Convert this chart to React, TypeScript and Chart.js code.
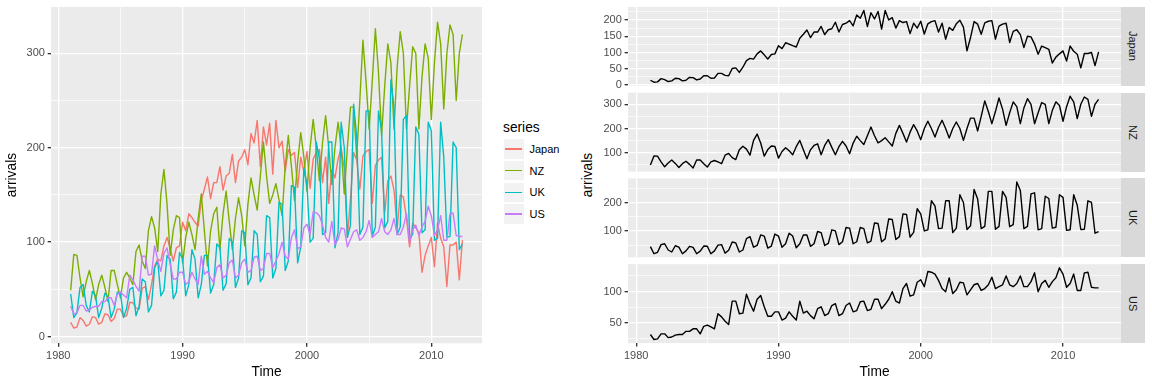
import React, { useEffect, useRef } from 'react';
import { Chart, registerables } from 'chart.js';

Chart.register(...registerables);

// ---------------- data ----------------
const START_YEAR = 1981;
const PERIODS_PER_YEAR = 4;
const seriesNames = ['Japan', 'NZ', 'UK', 'US'];
const seriesColors = ['#F8766D', '#7CAE00', '#00BFC4', '#C77CFF'];

const japan = [
  15, 9, 10, 20, 17, 11, 13, 21, 20, 13,
  15, 24, 23, 16, 19, 29, 29, 21, 22, 36,
  36, 30, 29, 51, 53, 39, 55, 75, 82, 80,
  96, 105, 93, 80, 94, 96, 121, 112, 130, 126,
  121, 117, 144, 156, 169, 146, 163, 163, 180, 155,
  170, 173, 193, 163, 186, 190, 198, 182, 215, 205,
  229, 180, 222, 203, 226, 172, 229, 200, 207, 175,
  198, 192, 195, 158, 190, 175, 196, 157, 188, 195,
  198, 163, 190, 141, 177, 168, 188, 199, 178, 105,
  146, 195, 187, 156, 191, 196, 198, 141, 181, 187,
  190, 131, 165, 170, 155, 115, 150, 148, 126, 95,
  120, 115, 110, 68, 86, 96, 105, 74, 120, 104,
  95, 53, 97, 97, 100, 60, 102,
];

const nz = [
  49, 87, 86, 62, 42, 58, 70, 56, 39, 55, 65, 52,
  37, 70, 70, 55, 41, 62, 68, 62, 55, 90, 97, 80,
  72, 112, 127, 115, 90, 151, 177, 140, 86, 113, 128, 126,
  78, 105, 121, 108, 92, 125, 151, 112, 75, 112, 130, 137,
  92, 130, 154, 122, 92, 125, 147, 128, 96, 140, 168, 150,
  134, 170, 206, 170, 141, 150, 162, 145, 128, 180, 213, 180,
  144, 185, 216, 190, 154, 200, 230, 200, 165, 205, 234, 200,
  161, 200, 227, 200, 151, 200, 243, 243, 190, 250, 314, 270,
  220, 270, 326, 280, 213, 265, 310, 290, 220, 285, 323, 300,
  220, 265, 307, 300, 220, 275, 310, 295, 230, 290, 333, 310,
  241, 300, 330, 320, 250, 300, 320,
];

const uk = [
  45, 20, 25, 52, 55, 33, 26, 48, 43, 20, 30, 46,
  42, 20, 29, 47, 46, 20, 30, 50, 52, 22, 32, 61,
  58, 26, 33, 73, 80, 43, 49, 86, 82, 40, 47, 89,
  82, 43, 55, 92, 82, 41, 55, 86, 86, 46, 55, 98,
  94, 49, 56, 104, 100, 52, 62, 112, 110, 55, 62, 112,
  108, 58, 64, 128, 126, 62, 72, 142, 140, 70, 80, 160,
  158, 78, 95, 178, 160, 100, 104, 206, 188, 108, 110, 206,
  206, 94, 110, 227, 200, 105, 118, 246, 212, 108, 116, 239,
  239, 106, 116, 239, 218, 115, 122, 272, 242, 108, 116, 230,
  234, 104, 108, 222, 214, 110, 113, 227, 218, 102, 104, 227,
  190, 105, 106, 206, 200, 92, 98,
];

const us = [
  32, 24, 25, 33, 33, 27, 28, 31, 32, 32,
  37, 37, 41, 41, 33, 45, 47, 44, 41, 65,
  60, 53, 48, 85, 85, 65, 66, 96, 81, 69,
  88, 94, 76, 61, 61, 68, 68, 55, 58, 68,
  61, 55, 85, 66, 69, 62, 57, 73, 76, 62,
  65, 78, 81, 62, 65, 78, 82, 68, 70, 84,
  85, 70, 72, 88, 88, 73, 80, 88, 100, 85,
  82, 105, 113, 93, 95, 115, 119, 108, 132, 131,
  128, 118, 105, 100, 122, 97, 103, 115, 114, 95,
  103, 111, 113, 102, 105, 111, 123, 105, 108, 111,
  125, 111, 108, 113, 125, 108, 108, 116, 130, 100,
  113, 118, 107, 116, 122, 138, 128, 107, 113, 128,
  102, 102, 130, 131, 107, 106, 106,
];

const seriesValues = [japan, nz, uk, us];

const xMajorTicks = [1980, 1990, 2000, 2010];
const xMinorTicks = [1985, 1995, 2005];
const leftYMajorTicks = [0, 100, 200, 300];
const leftYMinorTicks = [50, 150, 250];
const facetYMajorTicks = [
  [0, 50, 100, 150, 200],
  [100, 200, 300],
  [100, 200],
  [50, 100],
];
const facetYMinorTicks = [
  [25, 75, 125, 175, 225],
  [50, 150, 250],
  [50, 150, 250],
  [25, 75, 125],
];

// ---------------- helpers ----------------
const FONT = "'Liberation Sans', Arial, Helvetica, sans-serif";
Chart.defaults.font.family = FONT;

const times = japan.map((_, i) => START_YEAR + i / PERIODS_PER_YEAR);

function expandRange(values: number[]) {
  const lo = Math.min(...values);
  const hi = Math.max(...values);
  const pad = (hi - lo) * 0.05;
  return [lo - pad, hi + pad];
}

const [xMin, xMax] = expandRange(times);

const panelBg = {
  id: 'panelBg',
  beforeDraw(chart: any) {
    const { ctx, chartArea } = chart;
    ctx.save();
    ctx.fillStyle = '#EBEBEB';
    ctx.fillRect(chartArea.left, chartArea.top, chartArea.right - chartArea.left, chartArea.bottom - chartArea.top);
    ctx.restore();
  },
};

function gridOpts(major: number[], showTicks: boolean) {
  return {
    color: '#FFFFFF',
    lineWidth: (c: any) => (c.tick && major.includes(c.tick.value) ? 1.33 : 0.67),
    drawTicks: showTicks,
    tickLength: 3.4,
    tickWidth: 1.33,
    tickColor: (c: any) => (c.tick && major.includes(c.tick.value) ? '#333333' : 'rgba(0,0,0,0)'),
  };
}

function linearAxis(
  min: number,
  max: number,
  major: number[],
  minor: number[],
  showLabels: boolean,
  fixedSize: number,
  horizontal: boolean,
  title?: string,
) {
  const all = [...major, ...minor].filter((v) => v >= min && v <= max).sort((a, b) => a - b);
  return {
    type: 'linear',
    min,
    max,
    afterBuildTicks: (s: any) => {
      s.ticks = all.map((v) => ({ value: v }));
    },
    afterFit: (s: any) => {
      if (horizontal) {
        s.height = fixedSize;
        s.paddingLeft = 0;
        s.paddingRight = 0;
      } else {
        s.width = fixedSize;
        s.paddingTop = 0;
        s.paddingBottom = 0;
      }
    },
    grid: gridOpts(major, showLabels),
    border: { display: false },
    ticks: {
      display: showLabels,
      padding: 2.75,
      color: '#4D4D4D',
      font: { size: 11 },
      autoSkip: false,
      maxRotation: 0,
      minRotation: 0,
      callback: (v: number) => (major.includes(v) ? String(v) : ''),
    },
    title: {
      display: !!title,
      text: title || '',
      color: '#000000',
      font: { size: 13.75 },
      padding: horizontal ? { top: 0, bottom: 3.75 } : { top: 3.75, bottom: 0 },
    },
  };
}

function ChartCanvas({ left, top, width, height, makeConfig }: any) {
  const ref = useRef<HTMLCanvasElement>(null);
  useEffect(() => {
    const chart = new Chart(ref.current as HTMLCanvasElement, makeConfig());
    return () => chart.destroy();
  }, []);
  return (
    <canvas
      ref={ref}
      width={width}
      height={height}
      style={{ position: 'absolute', left, top, width, height }}
    />
  );
}

// ---------------- layout ----------------
const LEFT_PANEL = { left: 51.1, right: 482, top: 6.9, bottom: 343.3 };
const RIGHT_PANEL = { left: 628, right: 1121 };
const facetTops = [6.9, 92.7, 178.4, 264.2];
const facetBottoms = [85.8, 171.6, 257.3, 343.1];
const X_AXIS_HEIGHT = 40.9;

function leftConfig() {
  const [yMin, yMax] = expandRange(seriesValues.flat());
  return {
    type: 'line',
    data: {
      datasets: seriesNames.map((name, k) => ({
        label: name,
        data: times.map((t, i) => ({ x: t, y: seriesValues[k][i] })),
        borderColor: seriesColors[k],
        borderWidth: 1.4,
        borderJoinStyle: 'round',
        pointRadius: 0,
        tension: 0,
        fill: false,
        order: seriesNames.length - k,
      })),
    },
    options: {
      animation: false,
      responsive: false,
      devicePixelRatio: 1,
      layout: { padding: { top: LEFT_PANEL.top, left: 0, right: 0, bottom: 0 } },
      plugins: { legend: { display: false }, tooltip: { enabled: false } },
      scales: {
        x: {
          ...linearAxis(xMin, xMax, xMajorTicks, xMinorTicks, true, 384 - LEFT_PANEL.bottom, true, 'Time'),
          position: 'bottom',
        },
        y: {
          ...linearAxis(yMin, yMax, leftYMajorTicks, leftYMinorTicks, true, LEFT_PANEL.left, false, 'arrivals'),
          position: 'left',
        },
      },
    },
    plugins: [panelBg],
  };
}

function facetConfig(k: number, canvasTop: number, canvasHeight: number) {
  const isBottom = k === seriesNames.length - 1;
  const [yMin, yMax] = expandRange(seriesValues[k]);
  const xH = isBottom ? X_AXIS_HEIGHT : 0;
  return {
    type: 'line',
    data: {
      datasets: [
        {
          label: seriesNames[k],
          data: times.map((t, i) => ({ x: t, y: seriesValues[k][i] })),
          borderColor: '#000000',
          borderWidth: 1.4,
          borderJoinStyle: 'round',
          pointRadius: 0,
          tension: 0,
          fill: false,
        },
      ],
    },
    options: {
      animation: false,
      responsive: false,
      devicePixelRatio: 1,
      layout: {
        padding: {
          top: facetTops[k] - canvasTop,
          left: 0,
          right: 0,
          bottom: canvasTop + canvasHeight - facetBottoms[k] - xH,
        },
      },
      plugins: { legend: { display: false }, tooltip: { enabled: false } },
      scales: {
        x: {
          ...linearAxis(xMin, xMax, xMajorTicks, xMinorTicks, isBottom, xH, true, isBottom ? 'Time' : undefined),
          position: 'bottom',
        },
        y: {
          ...linearAxis(yMin, yMax, facetYMajorTicks[k], facetYMinorTicks[k], true, 32, false),
          position: 'left',
        },
      },
    },
    plugins: [panelBg],
  };
}

const FACET_CANVAS_LEFT = RIGHT_PANEL.left - 32;

export default function App() {
  const facetCanvas = facetTops.map((t, k) => {
    const top = Math.max(0, Math.floor(t) - 5);
    const bottom = k === facetTops.length - 1 ? 384 : Math.ceil(facetBottoms[k]) + 6;
    return { top, height: bottom - top };
  });
  return (
    <div
      style={{
        position: 'fixed',
        left: 0,
        top: 0,
        width: 1152,
        height: 384,
        background: '#FFFFFF',
        fontFamily: FONT,
        overflow: 'hidden',
      }}
    >
      <ChartCanvas left={0} top={0} width={Math.round(LEFT_PANEL.right)} height={384} makeConfig={leftConfig} />

      {/* legend */}
      <div style={{ position: 'absolute', left: 503, top: 119, fontSize: 13.75, lineHeight: '17px', color: '#000' }}>
        series
      </div>
      {seriesNames.map((name, k) => {
        const top = 138.3 + 21.6 * k;
        return (
          <React.Fragment key={name}>
            <div
              style={{
                position: 'absolute',
                left: 503,
                top,
                width: 21.6,
                height: 21.6,
                boxSizing: 'border-box',
                background: '#F2F2F2',
                border: '0.7px solid #FFFFFF',
              }}
            />
            <div
              style={{
                position: 'absolute',
                left: 505.2,
                top: top + 10.1,
                width: 17.3,
                height: 1.4,
                background: seriesColors[k],
              }}
            />
            <div
              style={{
                position: 'absolute',
                left: 529.5,
                top: top + 10.8 - 7,
                fontSize: 11,
                lineHeight: '14px',
                color: '#000',
              }}
            >
              {name}
            </div>
          </React.Fragment>
        );
      })}

      {/* right side y title */}
      <div
        style={{
          position: 'absolute',
          left: 588,
          top: (facetTops[0] + facetBottoms[3]) / 2,
          transform: 'translate(-50%, -50%) rotate(-90deg)',
          fontSize: 13.75,
          lineHeight: '16px',
          color: '#000',
          whiteSpace: 'nowrap',
        }}
      >
        arrivals
      </div>

      {seriesNames.map((name, k) => (
        <ChartCanvas
          key={name}
          left={FACET_CANVAS_LEFT}
          top={facetCanvas[k].top}
          width={Math.round(RIGHT_PANEL.right - FACET_CANVAS_LEFT)}
          height={facetCanvas[k].height}
          makeConfig={() => facetConfig(k, facetCanvas[k].top, facetCanvas[k].height)}
        />
      ))}

      {/* strips */}
      {seriesNames.map((name, k) => (
        <div
          key={'strip-' + name}
          style={{
            position: 'absolute',
            left: RIGHT_PANEL.right,
            top: facetTops[k],
            width: 1145 - RIGHT_PANEL.right,
            height: facetBottoms[k] - facetTops[k],
            background: '#D9D9D9',
            color: '#1A1A1A',
            fontSize: 11,
            display: 'flex',
            alignItems: 'center',
            justifyContent: 'center',
            writingMode: 'vertical-rl',
          }}
        >
          {name}
        </div>
      ))}
    </div>
  );
}
